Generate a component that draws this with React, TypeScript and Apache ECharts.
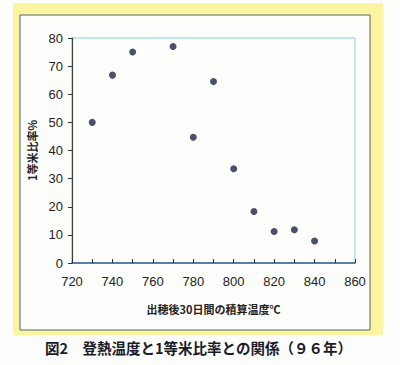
import React, { useEffect, useRef } from "react";
import * as echarts from "echarts";

const temps = [730, 740, 750, 770, 780, 790, 800, 810, 820, 830, 840];
const ratios = [50, 66.8, 75, 77, 44.7, 64.5, 33.5, 18.3, 11.2, 11.8, 7.8];
const xTitle = "出穂後30日間の積算温度℃";
const yTitle = "1等米比率%";
const caption = "図2　登熱温度と1等米比率との関係（９６年）";

export default function App() {
  const ref = useRef<HTMLDivElement>(null);
  useEffect(() => {
    const chart = echarts.init(ref.current!, null, { renderer: "svg" });
    const font = "'Noto Sans CJK JP', 'Noto Sans', sans-serif";
    const yellow = "#fcf4a0";
    chart.setOption({
      animation: false,
      backgroundColor: "#fdfdfb",
      grid: {
        left: 72,
        top: 38,
        right: 45,
        bottom: 102,
        show: true,
        borderColor: "#8fcfdc",
        borderWidth: 1,
      },
      xAxis: {
        type: "value",
        min: 720,
        max: 860,
        interval: 20,
        name: xTitle,
        nameLocation: "middle",
        nameGap: 40,
        nameTextStyle: { fontFamily: font, fontSize: 11, fontWeight: "bold", color: "#222" },
        axisLine: { show: true, onZero: false, lineStyle: { color: "#2f5f9a", width: 1.5 } },
        axisTick: { show: true, inside: true, length: 4, lineStyle: { color: "#333" } },
        minorTick: { show: true, splitNumber: 2, length: 4, lineStyle: { color: "#333" } },
        axisLabel: { fontFamily: "'Liberation Sans', Arial, sans-serif", fontSize: 13, color: "#222", margin: 12 },
        splitLine: { show: false },
      },
      yAxis: {
        type: "value",
        min: 0,
        max: 80,
        interval: 10,
        name: yTitle,
        nameLocation: "middle",
        nameGap: 30,
        nameRotate: 90,
        nameTextStyle: { fontFamily: font, fontSize: 11, fontWeight: "bold", color: "#222" },
        axisLine: { show: true, lineStyle: { color: "#3a4a3a", width: 1.2 } },
        axisTick: { show: true, length: 4, lineStyle: { color: "#333" } },
        axisLabel: { fontFamily: "'Liberation Sans', Arial, sans-serif", fontSize: 13, color: "#222", margin: 9 },
        splitLine: { show: false },
      },
      graphic: [
        { type: "rect", shape: { x: 13, y: 3, width: 370, height: 12 }, style: { fill: yellow }, silent: true },
        { type: "rect", shape: { x: 13, y: 3, width: 7, height: 332 }, style: { fill: yellow }, silent: true },
        { type: "rect", shape: { x: 370, y: 3, width: 13, height: 332 }, style: { fill: yellow }, silent: true },
        { type: "rect", shape: { x: 13, y: 330, width: 370, height: 5 }, style: { fill: yellow }, silent: true },
        { type: "rect", shape: { x: 20, y: 15, width: 350, height: 315 }, style: { fill: "none", stroke: "#4a6a60", lineWidth: 1 }, silent: true },
        {
          type: "text",
          left: 45,
          top: 340,
          style: { text: caption, font: `bold 14.5px ${font}`, fill: "#1a1a2a" },
          silent: true,
        },
      ],
      series: [
        {
          type: "scatter",
          data: temps.map((t, i) => [t, ratios[i]]),
          symbolSize: 7,
          itemStyle: { color: "#1a2548" },
        },
      ],
    });
    return () => chart.dispose();
  }, []);
  return <div ref={ref} style={{ position: "fixed", left: 0, top: 0, width: 400, height: 365 }} />;
}
